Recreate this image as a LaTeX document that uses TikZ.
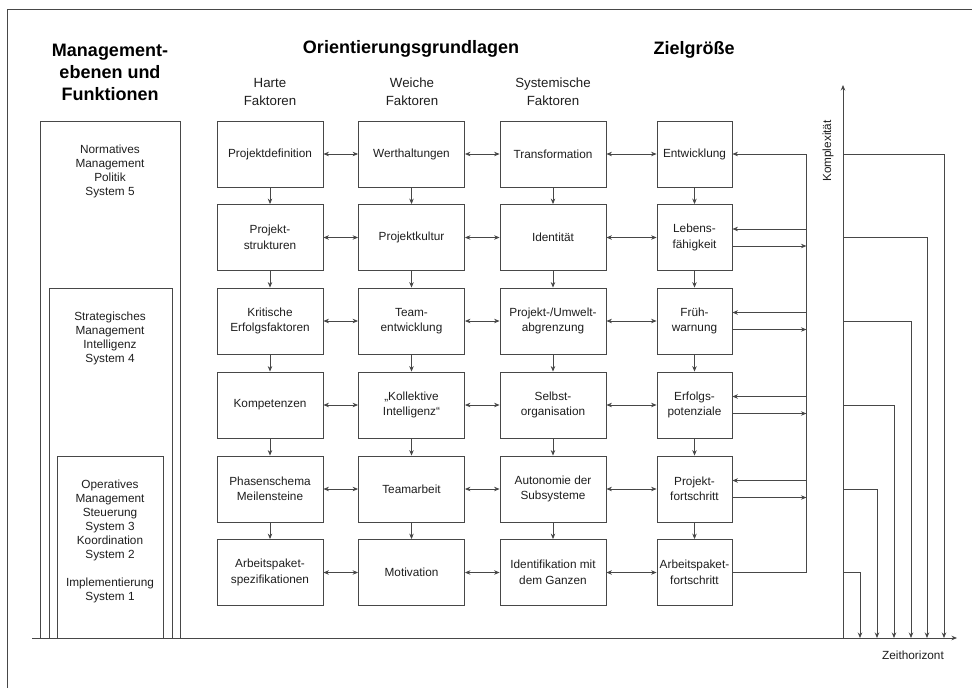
\documentclass[tikz,border=0pt]{standalone}
\usepackage{fontspec}
\setmainfont{Liberation Sans}
\usetikzlibrary{arrows.meta}
\definecolor{linegray}{HTML}{474747}
\definecolor{textgray}{HTML}{1E1E1E}

\begin{document}
\begin{tikzpicture}[x=1pt,y=-1pt,
    >={Stealth[length=5.5pt,width=4.5pt]},
    color=linegray,line width=0.75pt,
    box/.style={draw=linegray,line width=0.85pt,minimum width=106pt,minimum height=66pt,
        inner sep=0pt,align=center,text=textgray,font=\fontsize{11.8}{15.5}\selectfont},
    goalbox/.style={box,minimum width=75pt},
    leftbox/.style={draw=linegray,line width=0.85pt},
    lefttext/.style={align=center,text=textgray,font=\fontsize{11.8}{14}\selectfont},
    headline/.style={align=center,text=black,font=\bfseries\fontsize{18}{22}\selectfont},
    subline/.style={align=center,text=textgray,font=\fontsize{13.3}{18}\selectfont},
    axislabel/.style={text=textgray,font=\fontsize{11.8}{14}\selectfont}]
    \useasboundingbox (0,0) rectangle (972,688);
    \draw (972,9) -- (7,9) -- (7,688);

    \node [headline] (mgmt)   at (110,72) {Management-\\ebenen und\\Funktionen};
    \node [headline] (orient) at (411,49) {Orientierungsgrundlagen};
    \node [headline] (ziel)   at (694,50) {Zielgröße};
    \node [subline] (hart)  at (270,92) {Harte\\Faktoren};
    \node [subline] (weich) at (412,92) {Weiche\\Faktoren};
    \node [subline] (sys)   at (553,92) {Systemische\\Faktoren};

    \draw [leftbox] (40,121) rectangle (180,638);
    \draw [leftbox] (49,288) rectangle (172,638);
    \draw [leftbox] (57,456) rectangle (163,638);
    \node [lefttext] (norm)  at (110,171) {Normatives\\Management\\Politik\\System 5};
    \node [lefttext] (strat) at (110,338) {Strategisches\\Management\\Intelligenz\\System 4};
    \node [lefttext] (oper)  at (110,541) {Operatives\\Management\\Steuerung\\System 3\\Koordination\\System 2\\[14pt]Implementierung\\System 1};

    \node [box] (H1) at (270,154)   {Projektdefinition};
    \node [box] (H2) at (270,237.5) {Projekt-\\strukturen};
    \node [box] (H3) at (270,321)   {Kritische\\Erfolgsfaktoren};
    \node [box] (H4) at (270,405)   {Kompetenzen};
    \node [box] (H5) at (270,489)   {Phasenschema\\Meilensteine};
    \node [box] (H6) at (270,572.5) {Arbeitspaket-\\spezifikationen};

    \node [box] (W1) at (411.5,154)   {Werthaltungen};
    \node [box] (W2) at (411.5,237.5) {Projektkultur};
    \node [box] (W3) at (411.5,321)   {Team-\\entwicklung};
    \node [box] (W4) at (411.5,405)   {„Kollektive\\Intelligenz“};
    \node [box] (W5) at (411.5,489)   {Teamarbeit};
    \node [box] (W6) at (411.5,572.5) {Motivation};

    \node [box] (S1) at (553,154)   {Transformation};
    \node [box] (S2) at (553,237.5) {Identität};
    \node [box] (S3) at (553,321)   {Projekt-/Umwelt-\\abgrenzung};
    \node [box] (S4) at (553,405)   {Selbst-\\organisation};
    \node [box] (S5) at (553,489)   {Autonomie der\\Subsysteme};
    \node [box] (S6) at (553,572.5) {Identifikation mit\\dem Ganzen};

    \node [goalbox] (E1) at (694.5,154)   {Entwicklung};
    \node [goalbox] (E2) at (694.5,237.5) {Lebens-\\fähigkeit};
    \node [goalbox] (E3) at (694.5,321)   {Früh-\\warnung};
    \node [goalbox] (E4) at (694.5,405)   {Erfolgs-\\potenziale};
    \node [goalbox] (E5) at (694.5,489)   {Projekt-\\fortschritt};
    \node [goalbox] (E6) at (694.5,572.5) {Arbeitspaket-\\fortschritt};

    \foreach \r in {1,...,6} {
        \draw [<->] (H\r) -- (W\r);
        \draw [<->] (W\r) -- (S\r);
        \draw [<->] (S\r) -- (E\r);
    }
    \foreach \c in {H,W,S,E}
        \foreach \a/\b in {1/2,2/3,3/4,4/5,5/6}
            \draw [->] (\c\a) -- (\c\b);

    \coordinate (bus) at (806,154);
    \draw (E6.east) -| (bus);
    \draw [->] (bus) -- (E1.east);
    \foreach \r in {2,...,5} {
        \draw [<-] ([yshift=8.5pt]E\r.east) -- ++(74,0);
        \draw [->] ([yshift=-8.5pt]E\r.east) -- ++(74,0);
    }

    \coordinate (O) at (843,638);
    \coordinate (tstart) at (32,638);
    \coordinate (tend) at (957,638);
    \coordinate (kend) at (843,85);
    \draw [->] (tstart) -- (tend);
    \draw [->] (O) -- (kend);
    \node [axislabel] (zeit) at (913,655) {Zeithorizont};
    \node [axislabel,rotate=90] (komp) at (828,151) {Komplexität};

    \foreach \r/\x in {1/944,2/927,3/911,4/894,5/877,6/860}
        \draw [->] (O |- E\r) -| (\x,638);
\end{tikzpicture}
\end{document}
